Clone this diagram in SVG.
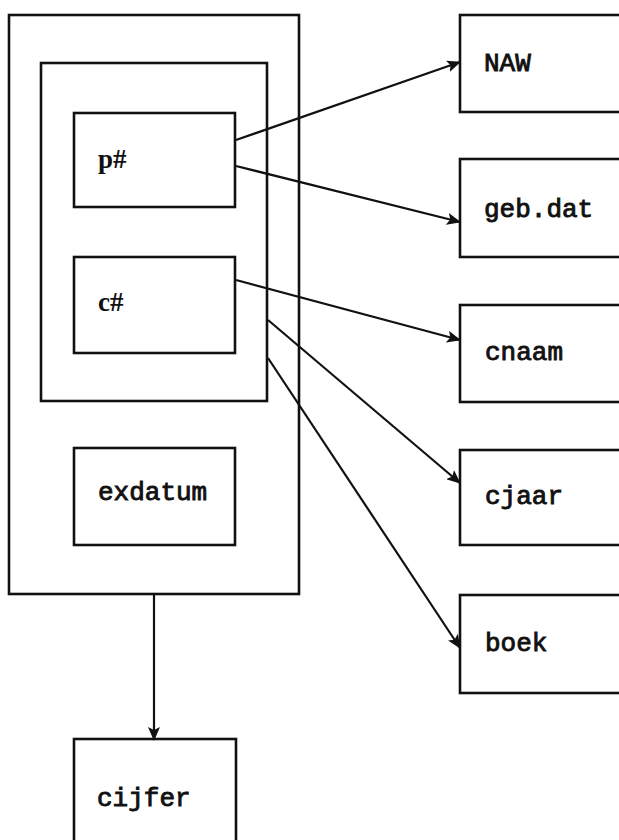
<svg xmlns="http://www.w3.org/2000/svg" width="619" height="840" viewBox="0 0 619 840">
  <style>
    .box { fill: none; stroke: #111; stroke-width: 2.6; }
    .lbl { font-family: "Liberation Mono", "Courier New", monospace; font-size: 26px; fill: #111; stroke: #111; stroke-width: 0.9; }
    .key { font-family: "Liberation Serif", "Times New Roman", serif; font-size: 27px; font-weight: bold; fill: #111; }
    .link { fill: none; stroke: #111; stroke-width: 2.2; marker-end: url(#head); }
  </style>
  <defs>
    <marker id="head" viewBox="0 0 14 12" refX="13" refY="6" markerWidth="14" markerHeight="12" markerUnits="userSpaceOnUse" orient="auto">
      <path d="M0,0 L14,6 L0,12 L3,6 Z" fill="#111"/>
    </marker>
  </defs>
  <rect width="619" height="840" fill="#fff"/>

  <!-- composite key: outer record with nested key group -->
  <g id="outer">
    <rect class="box" x="9" y="15" width="290" height="579"/>
  </g>
  <g id="keygroup">
    <rect class="box" x="41" y="63" width="226" height="338"/>
  </g>
  <g id="p">
    <rect class="box" x="74" y="113" width="161" height="94"/>
    <text class="key" x="98" y="168">p#</text>
  </g>
  <g id="c">
    <rect class="box" x="74" y="257" width="161" height="96"/>
    <text class="key" x="98" y="311">c#</text>
  </g>
  <g id="exdatum">
    <rect class="box" x="74" y="448" width="161" height="97"/>
    <text class="lbl" x="98" y="500">exdatum</text>
  </g>

  <!-- attribute boxes on the right, running off the page edge -->
  <g id="naw">
    <rect class="box" x="460" y="15" width="180" height="97"/>
    <text class="lbl" x="484" y="71">NAW</text>
  </g>
  <g id="gebdat">
    <rect class="box" x="460" y="159" width="180" height="98"/>
    <text class="lbl" x="484" y="217">geb.dat</text>
  </g>
  <g id="cnaam">
    <rect class="box" x="460" y="305" width="180" height="97"/>
    <text class="lbl" x="485" y="360">cnaam</text>
  </g>
  <g id="cjaar">
    <rect class="box" x="460" y="450" width="180" height="95"/>
    <text class="lbl" x="485" y="504">cjaar</text>
  </g>
  <g id="boek">
    <rect class="box" x="460" y="595" width="180" height="98"/>
    <text class="lbl" x="485" y="651">boek</text>
  </g>
  <g id="cijfer">
    <rect class="box" x="74" y="739" width="162" height="120"/>
    <text class="lbl" x="97" y="806">cijfer</text>
  </g>

  <g id="connectors">
    <line class="link" x1="236" y1="140" x2="460" y2="62"/>
    <line class="link" x1="236" y1="166" x2="460" y2="222"/>
    <line class="link" x1="236" y1="280" x2="460" y2="340"/>
    <line class="link" x1="268" y1="320" x2="460" y2="483"/>
    <line class="link" x1="268" y1="358" x2="460" y2="648"/>
    <line class="link" x1="154" y1="594" x2="154" y2="740"/>
  </g>
</svg>
